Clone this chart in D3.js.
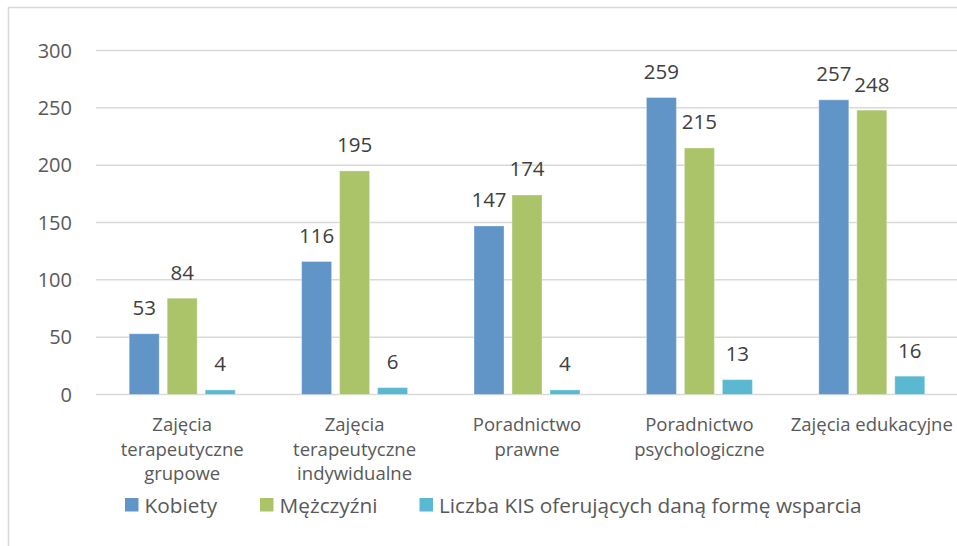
<!DOCTYPE html>
<html>
<head>
<meta charset="utf-8">
<script src="https://cdn.jsdelivr.net/npm/d3@7"></script>
<style>
  body { margin: 0; background: #fff; }
  svg { display: block; font-family: "Open Sans", Lato, sans-serif; }
</style>
</head>
<body>
<svg id="chart"></svg>
<script>
// Data
const categories = [
    "Zajęcia terapeutyczne grupowe",
    "Zajęcia terapeutyczne indywidualne",
    "Poradnictwo prawne",
    "Poradnictwo psychologiczne",
    "Zajęcia edukacyjne"
];
// how each category label wraps under the axis
const categoryLines = [
    ["Zajęcia", "terapeutyczne", "grupowe"],
    ["Zajęcia", "terapeutyczne", "indywidualne"],
    ["Poradnictwo", "prawne"],
    ["Poradnictwo", "psychologiczne"],
    ["Zajęcia edukacyjne"]
];
const seriesNames = ["Kobiety", "Mężczyźni", "Liczba KIS oferujących daną formę wsparcia"];
const kobiety = [53, 116, 147, 259, 257];
const mezczyzni = [84, 195, 174, 215, 248];
const liczbaKIS = [4, 6, 4, 13, 16];
const yTicks = [0, 50, 100, 150, 200, 250, 300];

const seriesValues = [kobiety, mezczyzni, liczbaKIS];
const colors = ["#6195C8", "#ABC46A", "#5BB8D1"];

const width = 957, height = 546;
const svg = d3.select("#chart").attr("width", width).attr("height", height);

// outer chart border (only top and left are visible in the frame)
svg.append("path")
    .attr("d", `M8.5,${height} V7.5 H${width}`)
    .attr("fill", "none")
    .attr("stroke", "#D9D9D9")
    .attr("stroke-width", 1.5);

const plot = { left: 96, right: 958, top: 50.5, bottom: 394.5 };

const x0 = d3.scaleBand().domain(categories).range([plot.left, plot.right]).padding(0);
const x1 = d3.scaleBand().domain(seriesNames).range([0, x0.bandwidth()])
    .paddingInner(0.21).paddingOuter(0.874);
const y = d3.scaleLinear().domain([0, 300]).range([plot.bottom, plot.top]);

// gridlines
svg.append("g")
    .selectAll("line")
    .data(yTicks)
    .enter().append("line")
    .attr("x1", plot.left)
    .attr("x2", width)
    .attr("y1", d => y(d))
    .attr("y2", d => y(d))
    .attr("stroke", "#D9D9D9")
    .attr("stroke-width", 1.5);

// y tick labels
svg.append("g")
    .selectAll("text")
    .data(yTicks)
    .enter().append("text")
    .attr("x", 72)
    .attr("y", d => y(d))
    .attr("dy", "0.36em")
    .attr("text-anchor", "end")
    .attr("font-size", 20)
    .attr("fill", "#595959")
    .text(d => d);

// bars
const groups = svg.append("g")
    .selectAll("g")
    .data(categories)
    .enter().append("g")
    .attr("transform", d => `translate(${x0(d)},0)`);

const barData = (d, i) => seriesNames.map((s, j) => ({ series: s, j: j, value: seriesValues[j][i] }));

groups.selectAll("rect")
    .data(barData)
    .enter().append("rect")
    .attr("x", d => x1(d.series))
    .attr("width", x1.bandwidth())
    .attr("y", d => y(d.value))
    .attr("height", d => y(0) - y(d.value))
    .attr("fill", d => colors[d.j])
    .attr("stroke", "rgba(255,255,255,0.35)")
    .attr("stroke-width", 1);

// data labels
groups.selectAll("text")
    .data(barData)
    .enter().append("text")
    .attr("x", d => x1(d.series) + x1.bandwidth() / 2)
    .attr("y", d => y(d.value) - 18.5)
    .attr("text-anchor", "middle")
    .attr("font-size", 20.5)
    .attr("fill", "#404040")
    .text(d => d.value);

// category labels
const catLabels = svg.append("g")
    .selectAll("text")
    .data(categories)
    .enter().append("text")
    .attr("x", d => x0(d) + x0.bandwidth() / 2)
    .attr("y", 431)
    .attr("text-anchor", "middle")
    .attr("font-size", 18.5)
    .attr("fill", "#595959");

catLabels.selectAll("tspan")
    .data((d, i) => categoryLines[i])
    .enter().append("tspan")
    .attr("x", function() { return d3.select(this.parentNode).attr("x"); })
    .attr("dy", (d, i) => i === 0 ? 0 : 24.5)
    .text(d => d);

// legend
const legendX = [125, 260, 419.5];
const legend = svg.append("g")
    .selectAll("g")
    .data(seriesNames)
    .enter().append("g")
    .attr("transform", (d, i) => `translate(${legendX[i]},498)`);

legend.append("rect")
    .attr("width", 13.5)
    .attr("height", 13.5)
    .attr("fill", (d, i) => colors[i]);

legend.append("text")
    .attr("x", 19.5)
    .attr("y", 14.5)
    .attr("font-size", 20.8)
    .attr("fill", "#595959")
    .text(d => d);
</script>
</body>
</html>
